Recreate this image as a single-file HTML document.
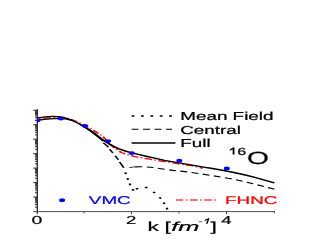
<!DOCTYPE html>
<html><head><meta charset="utf-8">
<style>
html,body{margin:0;padding:0;background:#fff;}
body{width:327px;height:245px;overflow:hidden;}
svg{display:block;font-family:"Liberation Sans",sans-serif;text-rendering:geometricPrecision;will-change:transform;}
</style></head><body>
<svg width="327" height="245" viewBox="0 0 327 245">
<defs><clipPath id="plot"><rect x="23.125" y="100" width="148.750" height="111.5"/></clipPath></defs>
<rect width="327" height="245" fill="#fff"/>
<g stroke="#333" stroke-width="1" fill="none">
<path stroke-width="1.4" d="M37.3 109.3V213.8"/>
<path stroke="#505050" d="M33.2 211.6H274.8"/>
<path stroke-width="1" d="M35 207.15H37.3M35 204.60H37.3M35 202.79H37.3M35 201.39H37.3M35 200.25H37.3M35 199.28H37.3M35 198.44H37.3M35 197.70H37.3M33.2 197.04H37.3M35 192.69H37.3M35 190.14H37.3M35 188.33H37.3M35 186.93H37.3M35 185.79H37.3M35 184.82H37.3M35 183.98H37.3M35 183.24H37.3M33.2 182.58H37.3M35 178.23H37.3M35 175.68H37.3M35 173.87H37.3M35 172.47H37.3M35 171.33H37.3M35 170.36H37.3M35 169.52H37.3M35 168.78H37.3M33.2 168.12H37.3M35 163.77H37.3M35 161.22H37.3M35 159.41H37.3M35 158.01H37.3M35 156.87H37.3M35 155.90H37.3M35 155.06H37.3M35 154.32H37.3M33.2 153.66H37.3M35 149.31H37.3M35 146.76H37.3M35 144.95H37.3M35 143.55H37.3M35 142.41H37.3M35 141.44H37.3M35 140.60H37.3M35 139.86H37.3M33.2 139.20H37.3M35 134.85H37.3M35 132.30H37.3M35 130.49H37.3M35 129.09H37.3M35 127.95H37.3M35 126.98H37.3M35 126.14H37.3M35 125.40H37.3M33.2 124.74H37.3M35 120.39H37.3M35 117.84H37.3M35 116.03H37.3M35 114.63H37.3M35 113.49H37.3M35 112.52H37.3M35 111.68H37.3M35 110.94H37.3M33.2 110.28H37.3"/>
<path stroke="#404040" stroke-width="1" d="M84.10 211.5V213.3M131.40 211.5V214.1M179.00 211.5V213.3M226.50 211.5V214.1M274.30 211.5V213.3"/>
</g>
<g transform="scale(1.6 1)">
<g fill="none" stroke="#ff4040" stroke-width="1.4" stroke-dasharray="4.688 1.625 0.938 1.625">
<path stroke="#f00" stroke-width="1.3" stroke-dashoffset="4.7" d="M22.875 119.2 C27.500 118.2 32.500 117.3 36.250 117.2 C39.375 117.2 41.250 117.6 42.875 118.5 C47.500 121 51.875 124.2 55.438 127.5 C58.750 130.6 61.250 133 63.812 135.9 C66.250 139.6 67.812 142.6 69.375 145.2 C71.875 148.6 74.062 151 76.250 152.7 C79.375 154.6 82.500 156 85.437 157 C91.250 158.6 96.875 160 102.812 161.5 C106.250 162.2 109.375 163.2 112.375 164.1 C115.000 164.8 116.875 165 118.750 165.4 C121.875 166.2 124.375 167.2 126.625 168.3"/>
<path d="M109.875 200H135.125"/>
</g>
<g fill="none" stroke="#000" stroke-linejoin="round" clip-path="url(#plot)">
<path stroke-width="1.4" d="M22.875 120.4 C27.500 119.5 32.500 118.5 36.250 118.4 C39.375 118.4 42.500 119.1 45.125 120.5 C48.750 122.9 52.500 126.2 55.875 129.7 C59.375 133.5 61.875 137 64.688 140.3 C67.500 143.6 70.625 146.4 73.938 148.6 C76.875 150.4 79.375 151.6 82.375 152.8 C89.375 155.6 95.625 157.8 102.812 160.3 C112.500 163.2 121.875 165.6 130.938 168 C140.625 170.6 150.000 173.6 158.062 176.8 C163.125 179 167.500 181 171.438 182.9"/>
<path stroke-width="1.2" d="M22.875 118 C26.250 117.1 29.375 116.4 32.500 116.3 C35.000 116.25 37.500 116.5 39.375 117.2 C41.250 117.9 43.125 119 45.000 120.3 "/>
<path stroke-width="1.0" d="M50.000 124.6 C52.500 126.8 54.375 128.8 55.875 130.4 C59.375 134.3 61.875 137.8 64.375 141.2"/>
<path stroke-width="1.1" d="M64.562 142.8 Q66.562 145 67.812 147.2 M68.500 149.2 L70.562 153.1 M71.937 155.8 L74.000 159.7 M74.750 162 L77.375 167.8"/>
<path stroke-width="1.1" stroke-dasharray="4.312 2.856" d="M84.500 166.9 C85.938 166.7 87.188 166.65 88.625 166.7 C93.750 166.9 98.125 168 102.812 169.2 C107.500 170.3 111.250 171 115.625 171.6 C125.000 173.6 134.375 176 144.312 178.7 C150.000 180.6 153.750 182 158.062 183.7 C163.750 186 167.500 187.6 171.438 189.2"/>
<path stroke-width="0.7" d="M80.812 167.6 C81.875 167.3 83.125 167.1 84.625 166.9"/>
<path stroke-width="1.4" d="M78.291 172.450L78.709 174.150M79.665 178.051L80.085 179.749M81.002 183.561L81.498 185.239M82.734 189.117L83.516 190.683M84.842 189.091L86.408 188.309M90.501 187.456L92.249 187.544M95.752 191.828L96.873 193.172M99.684 197.244L100.566 198.756M102.237 202.388L102.888 204.012M104.109 207.767L104.641 209.433"/>
</g>
<g fill="#00f">
<circle cx="23.375" cy="120.3" r="1.85" clip-path="url(#plot)"/>
<circle cx="38.000" cy="118.6" r="1.85"/>
<circle cx="53.187" cy="125.8" r="1.85"/>
<circle cx="67.562" cy="141.1" r="1.85"/>
<circle cx="82.375" cy="153.1" r="1.85"/>
<circle cx="112.062" cy="160.7" r="1.85"/>
<circle cx="141.750" cy="168.4" r="1.85"/>
<circle cx="38.812" cy="200.2" r="1.85"/>
</g>
<g fill="none" stroke="#000">
<path stroke-width="1.4" stroke-dasharray="1.750 4.125" d="M82.250 116H108.125"/>
<path stroke-width="1.1" stroke-dasharray="4.312 2.856" d="M82.250 129.3H107.500"/>
<path stroke-width="1.4" d="M82.250 143H109.625"/>
</g>
</g>
<g fill="#000" stroke="#000" stroke-width="0.2">
<text transform="translate(180.2 120) scale(1.64 1)" font-size="11.5">Mean Field</text>
<text transform="translate(180.2 133.6) scale(1.64 1)" font-size="11.5">Central</text>
<text transform="translate(180.2 147) scale(1.64 1)" font-size="11.5">Full</text>
<path stroke-width="0.1" d="M232.7 154.6V149.3L229.9 150.7V149.6L233 147.5H234.4V154.6Z"/>
<text transform="translate(237.3 154.5) scale(1.58 1)" font-size="10.2">6</text>
<text transform="translate(247.1 164.2) scale(1.6 1)" font-size="17.6">O</text>
<text transform="translate(31.5 223.6) scale(1.68 1)" font-size="11.6">0</text>
<text transform="translate(126 223.8) scale(1.6 1)" font-size="11.6">2</text>
<text transform="translate(221.3 223.8) scale(1.6 1)" font-size="11.6">4</text>
<text transform="translate(147.6 230.6) scale(1.75 1)" font-size="13">k</text>
<text transform="translate(164.6 230.8) scale(1.75 1)" font-size="13">[</text>
<text transform="translate(171.2 230.6) scale(1.95 1)" font-size="13" font-style="italic">fm</text>
<path stroke="none" fill="#555" d="M199 221.3H202.3V222.2H199Z"/>
<path stroke="none" d="M206 223.8L207.6 223.8L209.5 218.2L208.2 218.2L204.6 219.9L204.8 220.9L207.4 219.9Z"/>
<text transform="translate(210.5 230.8) scale(1.75 1)" font-size="13">]</text>
</g>
<text fill="#00f" stroke="#00f" stroke-width="0.2" transform="translate(88.8 204.1) scale(1.67 1)" font-size="11.3">VMC</text>
<text fill="#f00" stroke="#f00" stroke-width="0.2" transform="translate(225 204.1) scale(1.67 1)" font-size="11.3">FHNC</text>
</svg>
</body></html>
